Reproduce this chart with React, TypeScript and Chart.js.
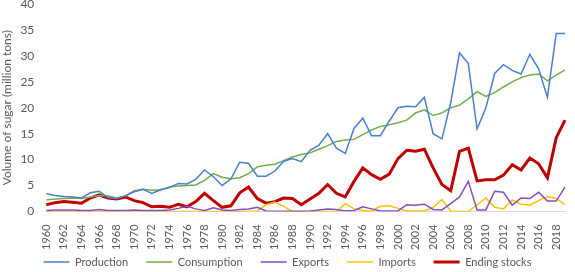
import React, { useEffect, useRef } from "react";
import { Chart, registerables } from "chart.js";

Chart.register(...registerables);

const years: string[] = [];
for (let y = 1960; y <= 2019; y++) years.push(String(y));

const production = [
  3.4, 3.1, 2.9, 2.8, 2.6, 3.6, 3.9, 2.7, 2.5, 3.0,
  3.8, 4.3, 3.5, 4.2, 4.6, 5.4, 5.3, 6.2, 8.0, 6.7,
  5.0, 6.3, 9.5, 9.3, 6.8, 6.8, 7.8, 9.7, 10.2, 9.6,
  11.8, 12.8, 15.0, 12.2, 11.2, 16.0, 18.0, 14.6, 14.6, 17.4,
  20.0, 20.3, 20.2, 22.0, 15.0, 14.0, 21.0, 30.6, 28.5, 15.9,
  20.0, 26.6, 28.3, 27.2, 26.5, 30.3, 27.5, 22.0, 34.3, 34.3,
];

const consumption = [
  2.2, 2.4, 2.5, 2.6, 2.5, 2.8, 3.1, 3.0, 2.6, 3.0,
  4.0, 4.3, 4.1, 4.2, 4.7, 4.9, 5.0, 5.1, 6.0, 7.3,
  6.6, 6.3, 6.5, 7.3, 8.6, 8.9, 9.1, 9.8, 10.5, 11.0,
  11.3, 12.0, 12.7, 13.5, 13.8, 13.9, 14.8, 15.7, 16.4, 16.7,
  17.1, 17.6, 19.0, 19.6, 18.5, 19.0, 20.0, 20.5, 21.7, 23.1,
  22.2, 22.9, 24.0, 25.0, 25.8, 26.3, 26.5, 25.2, 26.3, 27.3,
];

const exportsData = [
  0.2, 0.3, 0.3, 0.3, 0.2, 0.2, 0.4, 0.2, 0.2, 0.2,
  0.3, 0.2, 0.2, 0.2, 0.3, 0.6, 1.0, 0.5, 0.2, 0.7,
  0.3, 0.2, 0.4, 0.5, 0.8, 0.1, 0.05, 0.05, 0.05, 0.05,
  0.1, 0.3, 0.5, 0.4, 0.1, 0.2, 0.9, 0.5, 0.1, 0.1,
  0.1, 1.3, 1.2, 1.4, 0.4, 0.3, 1.5, 2.8, 5.8, 0.3,
  0.3, 3.9, 3.7, 1.2, 2.6, 2.5, 3.7, 2.0, 2.0, 4.7,
];

const importsData = [
  0.0, 0.0, 0.0, 0.0, 0.0, 0.0, 0.0, 0.0, 0.0, 0.0,
  0.0, 0.0, 0.0, 0.0, 0.0, 0.0, 0.0, 0.0, 0.0, 0.0,
  0.0, 0.0, 0.0, 0.0, 0.1, 1.3, 1.8, 1.0, 0.0, 0.0,
  0.0, 0.0, 0.0, 0.0, 1.5, 0.5, 0.2, 0.1, 1.0, 1.1,
  0.6, 0.1, 0.1, 0.1, 0.8, 2.3, 0.1, 0.0, 0.0, 1.3,
  2.6, 0.8, 0.5, 2.2, 1.4, 1.2, 2.1, 2.9, 2.5, 1.3,
];

const endingStocks = [
  1.3, 1.7, 1.9, 1.8, 1.6, 2.6, 3.2, 2.6, 2.4, 2.8,
  2.1, 1.7, 0.9, 1.0, 0.8, 1.4, 0.9, 1.9, 3.5, 2.1,
  0.8, 1.1, 3.6, 4.7, 2.5, 1.6, 1.9, 2.6, 2.5, 1.3,
  2.4, 3.5, 5.2, 3.5, 2.8, 5.8, 8.4, 7.1, 6.2, 7.2,
  10.2, 11.8, 11.6, 12.0, 8.4, 5.2, 4.0, 11.6, 12.2, 5.9,
  6.1, 6.1, 7.0, 9.0, 8.0, 10.3, 9.2, 6.5, 14.2, 17.6,
];

const FONT = "Lato, 'Open Sans', sans-serif";
const TEXT = "#595959";
const LEGEND_PAD = 18;
const LEGEND_FONT = 11;

const legendShrink = {
  id: "legendShrink",
  beforeLayout(chart: any) {
    const lg = chart.legend;
    if (lg && !lg.__patched) {
      const origFit = lg.fit;
      lg.fit = function (this: any) {
        origFit.call(this);
        this.height = 17;
      };
      const origDraw = lg.draw;
      lg.draw = function (this: any) {
        const t = this.top;
        const b = this.bottom;
        const h = this.height;
        this.top = 262 - LEGEND_PAD - LEGEND_FONT / 2;
        this.bottom = chart.height;
        this.height = this.bottom - this.top;
        origDraw.apply(this, arguments as any);
        this.top = t;
        this.bottom = b;
        this.height = h;
      };
      lg.__patched = true;
    }
  },
};

export default function App() {
  const ref = useRef<HTMLCanvasElement | null>(null);

  useEffect(() => {
    if (!ref.current) return;
    const mk = (label: string, data: number[], color: string, width: number) => ({
      label,
      data,
      borderColor: color,
      backgroundColor: color,
      borderWidth: width,
      pointRadius: 0,
      pointHoverRadius: 0,
      tension: 0,
      fill: false,
    });
    const chart = new Chart(ref.current, {
      type: "line",
      data: {
        labels: years,
        datasets: [
          mk("Production", production, "#4A7ECF", 1.5),
          mk("Consumption", consumption, "#70AD47", 1.5),
          mk("Exports", exportsData, "#8050C0", 1.5),
          mk("Imports", importsData, "#FFC000", 1.5),
          mk("Ending stocks", endingStocks, "#C00000", 3),
        ],
      },
      plugins: [legendShrink],
      options: {
        animation: false,
        responsive: false,
        maintainAspectRatio: false,
        layout: { padding: { left: 0, right: 0, top: 0, bottom: 0 } },
        plugins: {
          legend: {
            position: "bottom",
            labels: {
              usePointStyle: true,
              pointStyle: "line",
              pointStyleWidth: 26,
              boxHeight: 10,
              color: TEXT,
              font: { family: FONT, size: LEGEND_FONT },
              padding: LEGEND_PAD,
            },
          },
          tooltip: { enabled: false },
        },
        scales: {
          x: {
            offset: false,
            grid: { display: false },
            border: { display: true, color: "#D9D9D9", width: 1 },
            afterFit: (s: any) => {
              s.paddingRight = 10;
            },
            ticks: {
              autoSkip: false,
              maxRotation: 90,
              minRotation: 90,
              color: TEXT,
              font: { family: FONT, size: 11 },
              padding: 5,
              callback: (_v: any, i: number) => (i % 2 === 0 ? years[i] : ""),
            },
          },
          y: {
            min: 0,
            max: 40,
            grid: { display: false },
            border: { display: false },
            afterFit: (s: any) => {
              s.paddingTop = 4;
            },
            ticks: {
              stepSize: 5,
              color: TEXT,
              font: { family: FONT, size: 12 },
              padding: 4,
            },
            title: {
              display: true,
              text: "Volume of sugar (million tons)",
              color: TEXT,
              font: { family: FONT, size: 12 },
              padding: { top: 0, bottom: 2 },
            },
          },
        },
      },
    });
    return () => chart.destroy();
  }, []);

  return (
    <div style={{ position: "fixed", left: 0, top: 0, width: 575, height: 272, background: "#fff" }}>
      <canvas ref={ref} width={575} height={272} style={{ width: 575, height: 272 }} />
    </div>
  );
}
